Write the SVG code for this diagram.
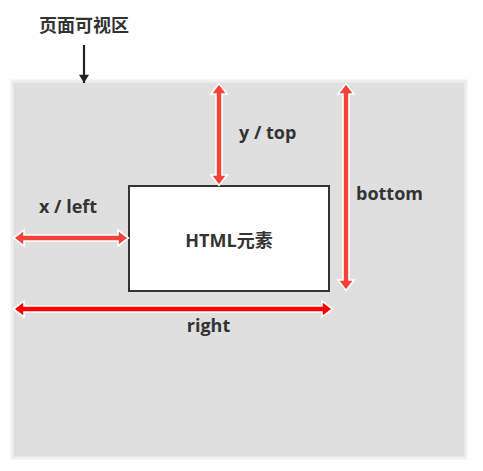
<svg xmlns="http://www.w3.org/2000/svg" width="483" height="471" viewBox="0 0 483 471">
<style>
.lbl{font-family:"Open Sans","Noto Sans CJK SC","Liberation Sans",sans-serif;font-weight:bold;font-size:18px;fill:#333}
.arr{stroke:#fff;stroke-width:1.6;stroke-linejoin:miter}
.red1{fill:#f5433a}
.red2{fill:#ff0000}
</style>
<defs>
<marker id="blk" viewBox="0 0 10 12" refX="10" refY="6" markerWidth="12" markerHeight="10" markerUnits="userSpaceOnUse" orient="auto">
<path d="M0,0 L10,6 L0,12 Z" fill="#222"/>
</marker>
</defs>
<rect width="483" height="471" fill="#fff"/>
<g id="viewport">
<rect x="12" y="81" width="454" height="377" fill="#dfdfdf" stroke="#efefef" stroke-width="3"/>
</g>
<g id="title">
<text class="lbl" x="39" y="32" style="font-family:'Noto Sans CJK SC',sans-serif">页面可视区</text>
</g>
<g id="element">
<rect x="129" y="186" width="200" height="105" fill="#fff" stroke="#333" stroke-width="2"/>
<text class="lbl" x="229" y="247" text-anchor="middle">HTML元素</text>
</g>
<g id="connectors">
<line x1="84" y1="45" x2="84" y2="83" stroke="#222" stroke-width="2.2" marker-end="url(#blk)"/>
<path class="arr red1" d="M219,83.5 L227,94 L222,94 L222,175 L227,175 L219,185.5 L211,175 L216,175 L216,94 L211,94 Z"/>
<path class="arr red1" d="M346,83.5 L354,94 L349,94 L349,280 L354,280 L346,290.5 L338,280 L343,280 L343,94 L338,94 Z"/>
<path class="arr red1" d="M13.5,238 L24,230 L24,235 L118,235 L118,230 L128.5,238 L118,246 L118,241 L24,241 L24,246 Z"/>
<path class="arr red2" d="M13.5,309 L24,301 L24,306 L322,306 L322,301 L332.5,309 L322,317 L322,312 L24,312 L24,317 Z"/>
</g>
<g id="labels">
<text class="lbl" x="239" y="139">y / top</text>
<text class="lbl" x="356" y="200">bottom</text>
<text class="lbl" x="39" y="213">x / left</text>
<text class="lbl" x="208.5" y="332" text-anchor="middle">right</text>
</g>
</svg>
